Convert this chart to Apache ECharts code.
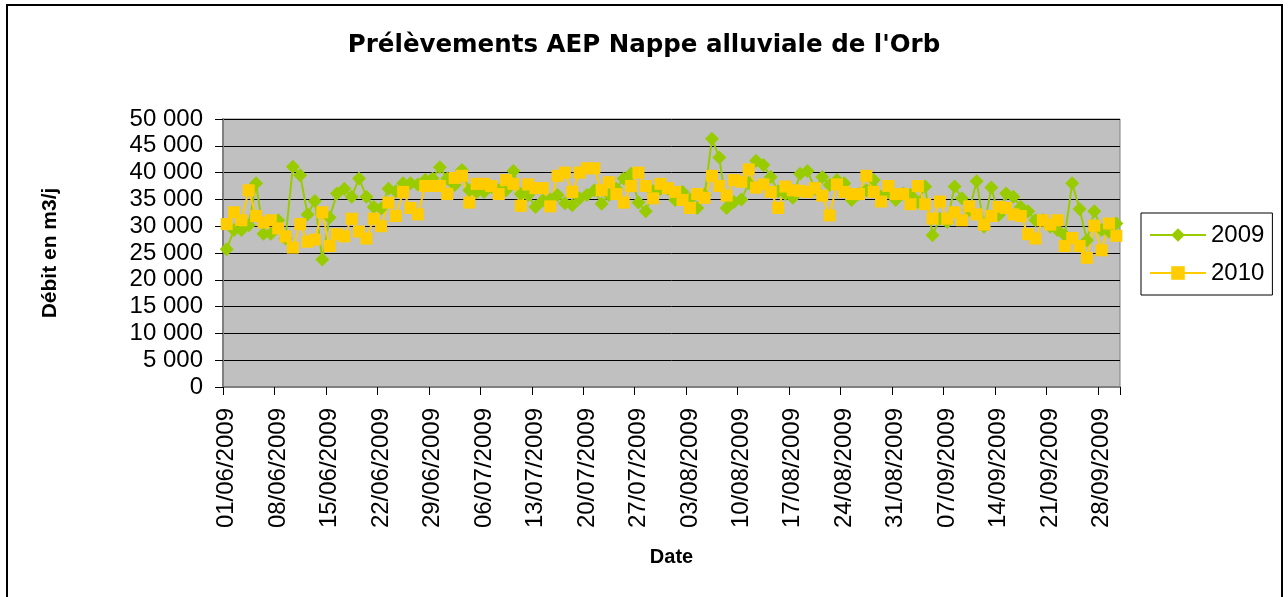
<!DOCTYPE html>
<html>
<head>
<meta charset="utf-8">
<title>Prélèvements AEP Nappe alluviale de l'Orb</title>
<script src="https://cdn.jsdelivr.net/npm/echarts@6/dist/echarts.min.js"></script>
<style>
  html, body { margin: 0; padding: 0; background: #fff; }
  #chart { width: 1288px; height: 597px; }
</style>
</head>
<body>
<div id="chart"></div>
<script>
// dates du 01/06/2009 au 30/09/2009
const dates = [];
const monthDays = [[6, 30], [7, 31], [8, 31], [9, 30]];
monthDays.forEach(([m, n]) => {
  for (let d = 1; d <= n; d++) {
    dates.push(String(d).padStart(2, '0') + '/' + String(m).padStart(2, '0') + '/2009');
  }
});

// débits journaliers (m3/j)
const debit2009 = [
  25700, 29300, 29300, 30200, 38000, 28600, 28600, 31100, 27700, 41100,
  39500, 32200, 34700, 23800, 31600, 36100, 37000, 35500, 38900, 35500,
  33600, 33300, 37000, 36500, 38000, 38000, 37800, 38600, 38900, 41000,
  38900, 37700, 40500, 36700, 36400, 36400, 37300, 36700, 36700, 40300,
  36000, 35800, 33600, 34800, 35000, 35800, 34300, 33900, 35200, 35800,
  36700, 34200, 35800, 37000, 38900, 39800, 34400, 32800, 36500, 37000,
  37000, 34900, 36400, 35000, 33400, 35800, 46300, 42800, 33400, 34500,
  35000, 38000, 42200, 41400, 39200, 36500, 36000, 35300, 39800, 40300,
  37000, 39200, 37700, 38600, 38000, 34900, 36000, 36700, 38600, 35500,
  36400, 34900, 36100, 35800, 34500, 37400, 28300, 31400, 30800, 37400,
  35200, 33000, 38400, 29900, 37200, 32100, 36100, 35500, 33600, 32800,
  31100, 31100, 29900, 29300, 28300, 38000, 33200, 27400, 32800, 29300,
  29000, 30500
];

const debit2010 = [
  30400, 32600, 31100, 36700, 31900, 30700, 31100, 29600, 28100, 26000,
  30400, 27100, 27500, 32600, 26300, 28500, 28100, 31400, 29000, 27700,
  31400, 30000, 34400, 31900, 36400, 33400, 32200, 37500, 37500, 37500,
  36000, 39000, 39400, 34400, 37900, 37900, 37500, 36000, 38600, 37900,
  33800, 37800, 37100, 37100, 33700, 39400, 40000, 36400, 40000, 40800,
  40800, 36700, 38200, 36000, 34400, 37500, 40000, 37500, 35200, 37900,
  37100, 36400, 34900, 33400, 36000, 35300, 39400, 37500, 35700, 38600,
  38300, 40600, 37200, 37800, 36400, 33400, 37400, 36700, 36600, 36400,
  37100, 35700, 32000, 37800, 36400, 36000, 36000, 39400, 36400, 34600,
  37500, 36000, 36000, 34100, 37500, 34100, 31400, 34600, 31400, 32600,
  31100, 33700, 32200, 30300, 31900, 33600, 33400, 32200, 31900, 28500,
  27700, 31100, 30300, 31100, 26300, 27800, 26300, 24100, 30100, 25500,
  30500, 28200
];

const font = "'Liberation Sans', Arial, sans-serif";

const chart = echarts.init(document.getElementById('chart'));

const option = {
  animation: false,
  backgroundColor: '#ffffff',
  textStyle: { fontFamily: font, color: '#000' },
  title: {
    text: "Prélèvements AEP Nappe alluviale de l'Orb",
    left: 'center',
    top: 28,
    textStyle: { fontFamily: "'DejaVu Sans', sans-serif", fontSize: 24.5, fontWeight: 'bold', color: '#000' }
  },
  legend: {
    orient: 'vertical',
    left: 1141,
    top: 213,
    width: 132,
    padding: [10, 8, 10, 8],
    itemWidth: 56,
    itemHeight: 17,
    itemGap: 14,
    backgroundColor: '#ffffff',
    borderColor: '#000',
    borderWidth: 1,
    textStyle: { fontFamily: font, fontSize: 24, color: '#000' },
    data: ['2009', '2010']
  },
  grid: {
    left: 223,
    top: 119,
    right: 168,
    bottom: 210,
    show: true,
    backgroundColor: '#c0c0c0',
    borderColor: '#808080',
    borderWidth: 1
  },
  xAxis: {
    type: 'category',
    data: dates,
    boundaryGap: true,
    name: 'Date',
    nameLocation: 'middle',
    nameGap: 160,
    nameTextStyle: { fontFamily: font, fontSize: 20, fontWeight: 'bold', color: '#000' },
    axisLine: { show: true, lineStyle: { color: '#808080', width: 2 } },
    axisTick: { show: true, interval: 6, length: 8, lineStyle: { color: '#000', width: 1 } },
    axisLabel: {
      interval: 6,
      rotate: 90,
      margin: 21,
      fontFamily: font,
      fontSize: 24,
      color: '#000'
    },
    splitLine: { show: false }
  },
  yAxis: {
    type: 'value',
    min: 0,
    max: 50000,
    interval: 5000,
    name: 'Débit en m3/j',
    nameLocation: 'middle',
    nameRotate: 90,
    nameGap: 162,
    nameTextStyle: { fontFamily: font, fontSize: 21, fontWeight: 'bold', color: '#000' },
    axisLine: { show: true, lineStyle: { color: '#808080', width: 2 } },
    axisTick: { show: true, inside: false, length: 8, lineStyle: { color: '#000' } },
    axisLabel: {
      margin: 20,
      fontFamily: font,
      fontSize: 24,
      color: '#000',
      formatter: v => String(v).replace(/\B(?=(\d{3})+(?!\d))/g, ' ')
    },
    splitLine: { show: true, lineStyle: { color: '#000', width: 1 } }
  },
  series: [
    {
      name: '2009',
      type: 'line',
      data: debit2009,
      symbol: 'diamond',
      symbolSize: 14,
      showAllSymbol: true,
      color: '#99cc00',
      lineStyle: { color: '#99cc00', width: 2 },
      itemStyle: { color: '#99cc00' }
    },
    {
      name: '2010',
      type: 'line',
      data: debit2010,
      symbol: 'rect',
      symbolSize: 12,
      showAllSymbol: true,
      color: '#ffcc00',
      lineStyle: { color: '#ffcc00', width: 2 },
      itemStyle: { color: '#ffcc00' }
    }
  ],
  graphic: [
    {
      type: 'rect',
      shape: { x: 7, y: 5, width: 1275, height: 600 },
      style: { fill: 'none', stroke: '#000', lineWidth: 2 },
      silent: true
    }
  ]
};

chart.setOption(option);
</script>
</body>
</html>
